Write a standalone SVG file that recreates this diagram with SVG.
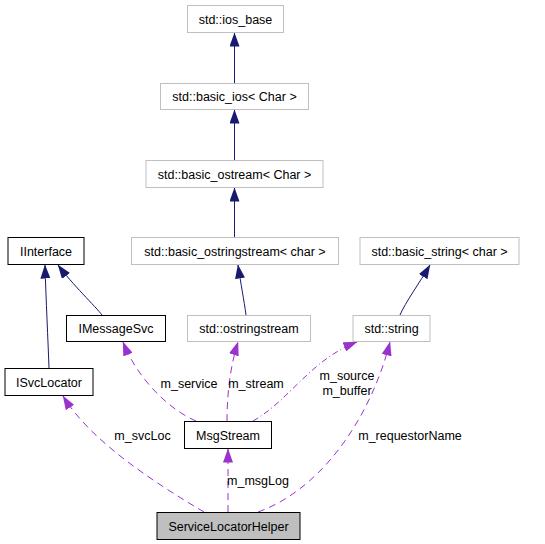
<svg xmlns="http://www.w3.org/2000/svg" width="545" height="544" viewBox="0 0 545 544">
<style>
text{font-family:"Liberation Sans",Arial,sans-serif;font-size:12.5px;fill:#000;text-anchor:middle}
.n rect{fill:#fff;stroke:#000;stroke-width:1}
.g rect{stroke:#bfbfbf}
.inh{fill:none;stroke:#191970;stroke-width:1;marker-end:url(#hb)}
.use{fill:none;stroke:#9a32cd;stroke-width:1;stroke-dasharray:7,5;marker-end:url(#hp)}
.dd{stroke-dasharray:6,3,1,3}
</style>
<defs>
<marker id="hb" markerUnits="userSpaceOnUse" viewBox="0 0 14 10" markerWidth="14" markerHeight="10" refX="13.5" refY="5" orient="auto"><path d="M0,0 L14,5 L0,10 Z" fill="#191970" stroke="none"/></marker>
<marker id="hp" markerUnits="userSpaceOnUse" viewBox="0 0 14 10" markerWidth="14" markerHeight="10" refX="13.5" refY="5" orient="auto"><path d="M0,0 L14,5 L0,10 Z" fill="#9a32cd" stroke="none"/></marker>
</defs>
<rect width="545" height="544" fill="#fff"/>
<g id="connectors">
<path class="inh" d="M234.5,83 L234.5,33"/>
<path class="inh" d="M234.5,160 L234.5,110"/>
<path class="inh" d="M234.5,237 L234.5,188"/>
<path class="inh" d="M246,315 C244,300 241,285 238,265"/>
<path class="inh" d="M400,315 C405,303 420,282 430,265"/>
<path class="inh" d="M102,315 C96,307 72,284 58,265"/>
<path class="inh" d="M49,368 C48,340 46,300 45,265"/>
<path class="use" d="M196,421 C170,410 138,380 123,342"/>
<path class="use" d="M227,421 C227,400 229,370 238,342"/>
<path class="use dd" d="M253,421 C290,400 310,360 357,342"/>
<path class="use" d="M258,512 C320,490 370,420 390,342"/>
<path class="use" d="M204,512 C150,480 90,440 63,396"/>
<path class="use" d="M228,512 L228,449"/>
<text x="189" y="388">m_service</text>
<text x="256" y="388">m_stream</text>
<text x="347" y="379.5">m_source</text>
<text x="347" y="395">m_buffer</text>
<text x="142.5" y="440">m_svcLoc</text>
<text x="410" y="440">m_requestorName</text>
<text x="258" y="485">m_msgLog</text>
</g>
<g id="ios_base" class="n g"><rect x="187.5" y="5.5" width="96" height="27"/><text x="235.5" y="23.5">std::ios_base</text></g>
<g id="basic_ios" class="n g"><rect x="160.5" y="83.5" width="148" height="26"/><text x="234.5" y="101">std::basic_ios&lt; Char &gt;</text></g>
<g id="basic_ostream" class="n g"><rect x="146" y="160.5" width="177" height="27"/><text x="234.5" y="178.5">std::basic_ostream&lt; Char &gt;</text></g>
<g id="IInterface" class="n"><rect x="8" y="237.5" width="76" height="27"/><text x="46" y="255.5">IInterface</text></g>
<g id="basic_ostringstream" class="n g"><rect x="131.5" y="237.5" width="207" height="27"/><text x="235" y="255.5">std::basic_ostringstream&lt; char &gt;</text></g>
<g id="basic_string" class="n g"><rect x="360" y="237.5" width="159" height="27"/><text x="439.5" y="255.5">std::basic_string&lt; char &gt;</text></g>
<g id="IMessageSvc" class="n"><rect x="66.5" y="315.5" width="99" height="26"/><text x="116" y="333">IMessageSvc</text></g>
<g id="ostringstream" class="n g"><rect x="187.5" y="315.5" width="123" height="26"/><text x="249" y="333">std::ostringstream</text></g>
<g id="string" class="n g"><rect x="353" y="315.5" width="77" height="26"/><text x="391.5" y="333">std::string</text></g>
<g id="ISvcLocator" class="n"><rect x="5" y="368.5" width="88" height="27"/><text x="49" y="386.5">ISvcLocator</text></g>
<g id="MsgStream" class="n"><rect x="184.5" y="421.5" width="87" height="27"/><text x="228" y="439.5">MsgStream</text></g>
<g id="ServiceLocatorHelper" class="n"><rect x="157" y="512.5" width="143" height="27" style="fill:#bfbfbf"/><text x="228.5" y="530.5">ServiceLocatorHelper</text></g>
</svg>
